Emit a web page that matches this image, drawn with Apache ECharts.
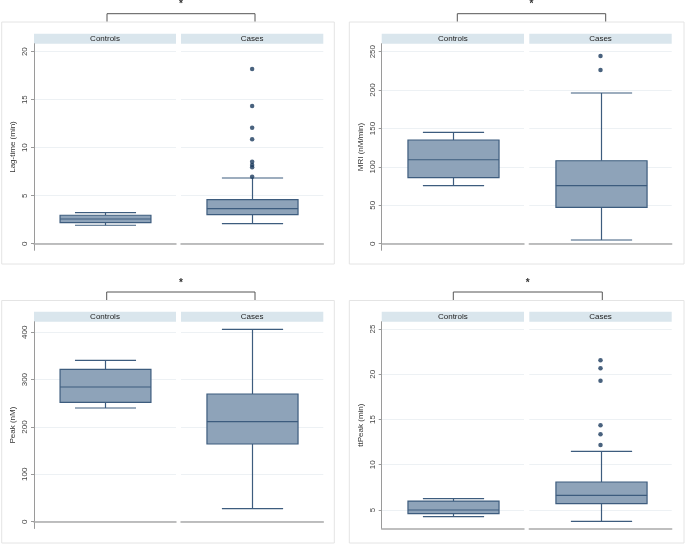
<!DOCTYPE html>
<html><head><meta charset="utf-8">
<script src="https://cdn.jsdelivr.net/npm/echarts@6/dist/echarts.min.js"></script>
<style>html,body{margin:0;padding:0;background:#fff}#c{width:685px;height:544px}</style>
</head><body><div id="c"></div>
<script>
// ---- data ----
const groups = ['Controls', 'Cases'];
const yTitles = ['Lag-time (min)', 'MRI (nM/min)', 'Peak (nM)', 'ttPeak (min)'];
// box stats: [lower whisker, Q1, median, Q3, upper whisker]
const lagControls = [1.92, 2.19, 2.57, 2.96, 3.23];
const lagCases = [2.08, 3.02, 3.65, 4.58, 6.84];
const lagOutliers = [6.98, 7.96, 8.2, 8.54, 10.87, 12.08, 14.34, 18.2];
const mriControls = [75.5, 86.1, 109.3, 135, 145];
const mriCases = [4.8, 47.3, 75.5, 108, 196.2];
const mriOutliers = [226.1, 244.4];
const peakControls = [240.1, 252.1, 284.5, 321.8, 340.8];
const peakCases = [27.5, 164.1, 211.3, 269.7, 406.3];
const peakOutliers = [];
const ttControls = [4.26, 4.6, 5.0, 5.99, 6.25];
const ttCases = [3.75, 5.7, 6.62, 8.09, 11.48];
const ttOutliers = [12.18, 13.36, 14.36, 19.29, 20.65, 21.54];
const lagTicks = [0, 5, 10, 15, 20];
const mriTicks = [0, 50, 100, 150, 200, 250];
const peakTicks = [0, 100, 200, 300, 400];
const ttTicks = [5, 10, 15, 20, 25];
const sigLabel = '*';

// ---- layout ----
const FONT = 'Liberation Sans, Arial, Helvetica, sans-serif';
const panels = [
  {title: yTitles[0], ctrl: lagControls, cases: lagCases, out: lagOutliers, ticks: lagTicks,
   facets: [[34, 176], [181, 323.3]], top: 43.7, bottom: 250.3, min: -0.69, max: 20.83,
   frame: [1.7, 22, 334.3, 264], bracket: [107, 255, 13.7, 21.5], starY: 4},
  {title: yTitles[1], ctrl: mriControls, cases: mriCases, out: mriOutliers, ticks: mriTicks,
   facets: [[381.7, 524], [529.3, 671.7]], top: 43.7, bottom: 250.3, min: -8.6, max: 260.4,
   frame: [349.3, 22, 684, 264], bracket: [457.3, 605.7, 13.7, 21.5], starY: 4},
  {title: yTitles[2], ctrl: peakControls, cases: peakCases, out: peakOutliers, ticks: peakTicks,
   facets: [[34, 176], [181, 323.3]], top: 321.7, bottom: 528.5, min: -14.4, max: 422.4,
   frame: [1.7, 300.5, 334.3, 543], bracket: [106.7, 255, 292, 300], starY: 283},
  {title: yTitles[3], ctrl: ttControls, cases: ttCases, out: ttOutliers, ticks: ttTicks,
   facets: [[381.7, 524], [529.3, 671.7]], top: 321.7, bottom: 528.5, min: 2.956, max: 25.8,
   frame: [349.3, 300.5, 684, 543], bracket: [453.3, 602.3, 292, 300], starY: 283}
];

const BOX_FILL = '#8ea3b9', BOX_LINE = '#3d5c7e', DOT = '#1c3b5e';

function renderBox(params, api) {
  const x = api.value(0);
  const lo = api.coord([x, api.value(1)]);
  const q1 = api.coord([x, api.value(2)]);
  const md = api.coord([x, api.value(3)]);
  const q3 = api.coord([x, api.value(4)]);
  const hi = api.coord([x, api.value(5)]);
  const band = api.size([1, 0])[0];
  const bw = band * 0.64, cw = band * 0.43;
  const cx = Math.round(lo[0]) + 0.5;
  const st = {stroke: BOX_LINE, lineWidth: 1.2};
  return {type: 'group', children: [
    {type: 'line', shape: {x1: cx, y1: hi[1], x2: cx, y2: q3[1]}, style: st},
    {type: 'line', shape: {x1: cx, y1: q1[1], x2: cx, y2: lo[1]}, style: st},
    {type: 'line', shape: {x1: cx - cw / 2, y1: hi[1], x2: cx + cw / 2, y2: hi[1]}, style: st},
    {type: 'line', shape: {x1: cx - cw / 2, y1: lo[1], x2: cx + cw / 2, y2: lo[1]}, style: st},
    {type: 'rect', shape: {x: cx - bw / 2, y: q3[1], width: bw, height: q1[1] - q3[1]},
     style: {fill: BOX_FILL, stroke: BOX_LINE, lineWidth: 1.2}},
    {type: 'line', shape: {x1: cx - bw / 2, y1: md[1], x2: cx + bw / 2, y2: md[1]}, style: st}
  ]};
}

const grid = [], xAxis = [], yAxis = [], series = [], graphic = [];
panels.forEach((p, pi) => {
  const [fx0, fy0, fx1, fy1] = p.frame;
  graphic.push({type: 'rect', silent: true, z: -10,
    shape: {x: fx0, y: fy0, width: fx1 - fx0, height: fy1 - fy0},
    style: {fill: 'none', stroke: '#e4e4e4', lineWidth: 1}});
  const [bx0, bx1, by0, by1] = p.bracket;
  graphic.push({type: 'polyline', silent: true,
    shape: {points: [[bx0, by1], [bx0, by0], [bx1, by0], [bx1, by1]]},
    style: {fill: 'none', stroke: '#555', lineWidth: 1}});
  graphic.push({type: 'text', silent: true,
    style: {text: sigLabel, x: (bx0 + bx1) / 2, y: p.starY, align: 'center', verticalAlign: 'middle',
      font: 'bold 10px ' + FONT, fill: '#333'}});
  groups.forEach((g, gi) => {
    const [x0, x1] = p.facets[gi];
    const idx = grid.length;
    grid.push({left: x0, top: p.top, width: x1 - x0, height: p.bottom - p.top});
    graphic.push({type: 'rect', silent: true,
      shape: {x: x0, y: p.top - 10, width: x1 - x0, height: 10},
      style: {fill: '#dae6ed'}});
    graphic.push({type: 'text', silent: true,
      style: {text: g, x: (x0 + x1) / 2, y: p.top - 4.8, align: 'center', verticalAlign: 'middle',
        font: '8px ' + FONT, fill: '#222'}});
    xAxis.push({gridIndex: idx, type: 'category', data: [g], position: 'bottom',
      axisLine: {show: true, lineStyle: {color: '#aaaaaa', width: 1.5}},
      axisTick: {show: false}, axisLabel: {show: false}, splitLine: {show: false}});
    const left = gi === 0;
    yAxis.push({gridIndex: idx, type: 'value', min: p.min, max: p.max,
      name: left ? p.title : '', nameLocation: 'middle', nameGap: 17,
      nameTextStyle: {fontFamily: FONT, fontSize: 8, color: '#333'},
      axisLine: {show: left, lineStyle: {color: '#9a9a9a', width: 1}},
      axisTick: {show: left, length: 3, customValues: p.ticks, lineStyle: {color: '#9a9a9a'}},
      axisLabel: {show: left, rotate: 90, margin: 5, fontSize: 8, fontFamily: FONT, color: '#444',
        customValues: p.ticks},
      splitLine: {show: true, lineStyle: {color: '#edf1f4', width: 1}}});
    const stats = gi === 0 ? p.ctrl : p.cases;
    series.push({type: 'custom', xAxisIndex: idx, yAxisIndex: idx, renderItem: renderBox,
      encode: {x: 0, y: [1, 2, 3, 4, 5]}, data: [[0].concat(stats)], silent: true});
    if (gi === 1 && p.out.length) {
      series.push({type: 'scatter', xAxisIndex: idx, yAxisIndex: idx, symbol: 'circle', symbolSize: 4.5,
        itemStyle: {color: DOT}, silent: true, data: p.out.map(v => [0, v])});
    }
  });
});

const chart = echarts.init(document.getElementById('c'), null, {renderer: 'canvas'});
chart.setOption({animation: false, backgroundColor: '#ffffff', grid, xAxis, yAxis, series, graphic});
</script></body></html>
